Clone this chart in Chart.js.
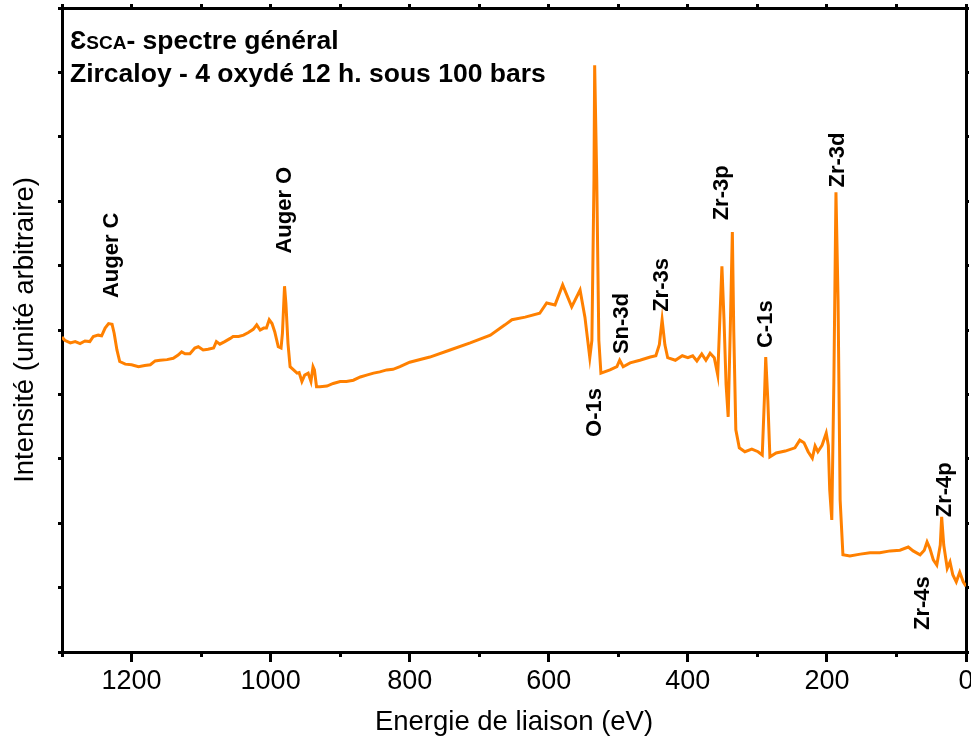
<!DOCTYPE html>
<html>
<head>
<meta charset="utf-8">
<script src="https://cdn.jsdelivr.net/npm/chart.js@4/dist/chart.umd.min.js"></script>
<style>
  body { margin: 0; background: #fff; }
</style>
</head>
<body>
<canvas id="myChart" width="971" height="747"></canvas>
<script>
// binding energy (eV) and intensity (arbitrary units) of the survey spectrum
const energies = [
  1300, 1296, 1288, 1281, 1274, 1267, 1260, 1255, 1248, 1243, 1238, 1233, 1228, 1225, 1221, 1217,
  1209, 1200, 1190, 1181, 1173, 1166, 1159, 1149, 1140, 1133, 1128, 1123, 1116, 1109, 1104, 1097,
  1090, 1082, 1078, 1073, 1066, 1058, 1054, 1046, 1039, 1032, 1025, 1020, 1015, 1010, 1006, 1002,
  998, 994, 989, 985, 983, 980, 978, 975, 972, 967, 962, 959, 955, 951, 946, 942, 939, 937, 934,
  929, 919, 910, 900, 891, 881, 871, 862, 852, 843, 833, 824, 814, 800, 771, 742, 713, 684, 663,
  653, 634, 613, 603, 591, 580, 567, 555, 548, 544,
  541, 538, 535, 534, 531, 528, 525, 512, 502, 498, 493, 483, 469, 454, 446, 441, 437, 433, 429,
  418, 408, 400, 393, 387, 380, 374, 368, 362, 357, 354, 351, 348, 345, 342, 339, 336, 334, 331,
  326, 318, 308, 299, 293, 290, 288, 285, 282, 273, 260, 246, 239, 233, 227, 221, 217, 213, 207,
  201, 198, 196, 193, 190, 187, 184, 181, 177, 167, 152, 138, 124, 109, 95, 83, 76, 66, 60, 56,
  52, 47, 42, 37, 35, 32, 27, 23, 19, 14, 9, 4, 0
];
const intensities = [
  4.89, 4.84, 4.80, 4.82, 4.79, 4.83, 4.82, 4.90, 4.92, 4.91, 5.03, 5.10, 5.09, 4.95, 4.69, 4.51,
  4.47, 4.46, 4.43, 4.45, 4.46, 4.52, 4.53, 4.54, 4.56, 4.61, 4.66, 4.63, 4.63, 4.72, 4.74, 4.69,
  4.70, 4.72, 4.82, 4.78, 4.82, 4.87, 4.90, 4.90, 4.92, 4.96, 5.01, 5.08, 5.00, 5.03, 5.03, 5.16,
  5.10, 4.97, 4.74, 4.72, 4.95, 5.68, 5.41, 4.79, 4.43, 4.38, 4.33, 4.34, 4.20, 4.30, 4.33, 4.20,
  4.43, 4.38, 4.12, 4.12, 4.13, 4.17, 4.20, 4.20, 4.22, 4.27, 4.30, 4.33, 4.35, 4.38, 4.39, 4.43,
  4.50, 4.58, 4.69, 4.80, 4.92, 5.08, 5.16, 5.20, 5.26, 5.42, 5.39, 5.70, 5.36, 5.62, 5.20, 4.84,
  4.57, 4.84, 7.33, 9.11, 7.33, 4.84, 4.33, 4.38, 4.43, 4.53,
  4.43, 4.49, 4.53, 4.58, 4.60, 4.77, 5.16, 4.77, 4.57, 4.53, 4.60, 4.57, 4.60, 4.52, 4.63, 4.53,
  4.64, 4.57, 4.30, 5.16, 5.99, 5.16, 4.15, 3.65, 5.00, 6.52, 5.00, 3.45, 3.17, 3.11, 3.15, 3.11,
  3.06, 3.91, 4.58, 3.91, 3.03, 3.09, 3.12, 3.17, 3.29, 3.25, 3.11, 3.01, 3.20, 3.11, 3.21, 3.40,
  3.21, 2.52, 2.05, 4.22, 7.14, 5.47, 2.36, 1.51, 1.49, 1.52, 1.54, 1.54, 1.57, 1.58, 1.63, 1.57,
  1.51, 1.58, 1.71, 1.61, 1.43, 1.35, 1.66, 2.10, 1.66, 1.30, 1.40, 1.20, 1.09, 1.24, 1.09, 1.02
];

// peak names with the position of each label
const peakNames = ['Auger C', 'Auger O', 'O-1s', 'Sn-3d', 'Zr-3s', 'Zr-3p', 'C-1s', 'Zr-3d', 'Zr-4p', 'Zr-4s'];
const peakEnergies = [1228, 979, 534, 495, 437, 351, 288, 184, 30, 62];
const peakLabelLevels = [6.16, 6.86, 3.72, 5.10, 5.70, 7.13, 5.09, 7.64, 2.52, 0.76];

const titleLines = ['- spectre général', 'Zircaloy - 4 oxydé 12 h. sous 100 bars'];

const fontFamily = "'Liberation Sans', Arial, sans-serif";

const points = energies.map((e, i) => ({ x: e, y: intensities[i] }));

// fixed box sizes so the frame sits where it should
function fixBox(size, horizontal) {
  return function (scale) {
    if (horizontal) scale.height = size; else scale.width = size;
    scale.paddingLeft = 0;
    scale.paddingRight = 0;
    scale.paddingTop = 0;
    scale.paddingBottom = 0;
  };
}

// texts inside the plot: the heading and the peak names
const textPlugin = {
  id: 'spectrumText',
  afterDatasetsDraw(chart) {
    const ctx = chart.ctx;
    const area = chart.chartArea;
    const xs = chart.scales.x;
    const ys = chart.scales.y;
    ctx.save();
    ctx.fillStyle = '#000';
    ctx.textBaseline = 'alphabetic';
    ctx.textAlign = 'left';

    // first line: "ƐSCA" with small caps, then the rest
    let tx = area.left + 8;
    const ty1 = area.top + 41;
    ctx.font = 'bold 26px ' + fontFamily;
    ctx.fillText('Ɛ', tx, ty1);
    tx += ctx.measureText('Ɛ').width;
    ctx.font = 'bold 19px ' + fontFamily;
    ctx.fillText('SCA', tx, ty1);
    tx += ctx.measureText('SCA').width;
    ctx.font = 'bold 26.5px ' + fontFamily;
    ctx.fillText(titleLines[0], tx, ty1);
    ctx.fillText(titleLines[1], area.left + 8, area.top + 74);

    ctx.font = 'bold 22px ' + fontFamily;
    ctx.textAlign = 'center';
    ctx.textBaseline = 'middle';
    peakNames.forEach((name, i) => {
      const px = xs.getPixelForValue(peakEnergies[i]);
      const py = ys.getPixelForValue(peakLabelLevels[i]);
      ctx.save();
      ctx.translate(px, py);
      ctx.rotate(-Math.PI / 2);
      ctx.fillText(name, 0, 0);
      ctx.restore();
    });
    ctx.restore();
  }
};

const ctx = document.getElementById('myChart');

new Chart(ctx, {
  type: 'line',
  data: {
    datasets: [{
      data: points,
      borderColor: '#ff8000',
      borderWidth: 3,
      pointRadius: 0,
      tension: 0,
      fill: false
    }]
  },
  options: {
    responsive: false,
    animation: false,
    devicePixelRatio: 1,
    layout: { padding: 0 },
    plugins: {
      legend: { display: false },
      tooltip: { enabled: false }
    },
    scales: {
      x: {
        type: 'linear',
        position: 'bottom',
        weight: 1,
        min: 0,
        max: 1300,
        reverse: true,
        border: { display: true, color: '#000', width: 3 },
        grid: { drawOnChartArea: false, drawTicks: true, tickLength: 10, tickWidth: 3, tickColor: '#000' },
        ticks: {
          stepSize: 200,
          includeBounds: false,
          color: '#000',
          padding: 3,
          maxRotation: 0,
          font: { family: fontFamily, size: 27 },
          callback: (value) => String(value)
        },
        title: {
          display: true,
          text: 'Energie de liaison (eV)',
          color: '#000',
          font: { family: fontFamily, size: 27.5 },
          padding: { top: 0, bottom: 8 }
        },
        afterFit: fixBox(95, true)
      },
      xMinor: {
        type: 'linear',
        position: 'bottom',
        weight: 0,
        min: 0,
        max: 1300,
        reverse: true,
        border: { display: false },
        grid: { drawOnChartArea: false, drawTicks: true, tickLength: 5, tickWidth: 3, tickColor: '#000' },
        ticks: { stepSize: 100, display: false },
        afterFit: fixBox(0, true)
      },
      xTop: {
        type: 'linear',
        position: 'top',
        min: 0,
        max: 1300,
        reverse: true,
        border: { display: true, color: '#000', width: 3 },
        grid: { drawOnChartArea: false, drawTicks: true, tickLength: 4, tickWidth: 3, tickColor: '#000' },
        ticks: { stepSize: 100, display: false },
        afterFit: fixBox(8, true)
      },
      y: {
        type: 'linear',
        position: 'left',
        min: 0,
        max: 10,
        border: { display: true, color: '#000', width: 3 },
        grid: { drawOnChartArea: false, drawTicks: true, tickLength: 4, tickWidth: 3, tickColor: '#000' },
        ticks: { stepSize: 1, display: false },
        title: {
          display: true,
          text: 'Intensité (unité arbitraire)',
          color: '#000',
          font: { family: fontFamily, size: 27.5 },
          padding: { top: 9, bottom: 0 }
        },
        afterFit: fixBox(62, false)
      },
      yRight: {
        type: 'linear',
        position: 'right',
        min: 0,
        max: 10,
        border: { display: true, color: '#000', width: 3 },
        grid: { drawOnChartArea: false, drawTicks: true, tickLength: 3, tickWidth: 3, tickColor: '#000' },
        ticks: { stepSize: 1, display: false },
        afterFit: fixBox(5, false)
      }
    }
  },
  plugins: [textPlugin]
});
</script>
</body>
</html>
